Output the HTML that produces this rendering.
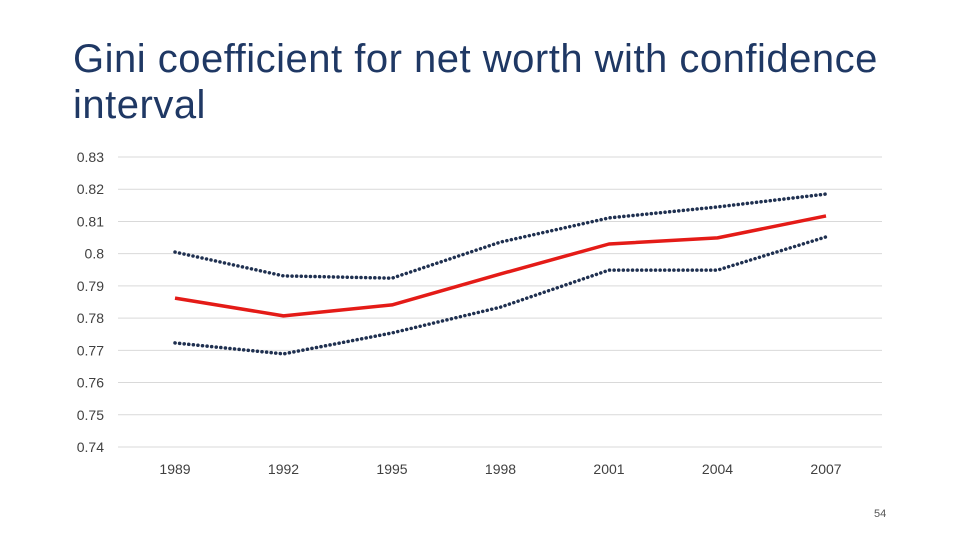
<!DOCTYPE html>
<html><head><meta charset="utf-8"><style>
body{margin:0;background:#fff;}
#wrap{position:relative;width:960px;height:540px;overflow:hidden;font-family:"Liberation Sans",sans-serif;}
#title{position:absolute;left:73px;top:36px;font-family:"Liberation Sans Narrow","Liberation Sans",sans-serif;font-size:40px;line-height:46px;color:#1f3864;letter-spacing:0.5px;}
#pg{position:absolute;left:874px;top:508px;font-size:11px;color:#555;}
</style></head><body>
<div id="wrap">
<div id="title">Gini coefficient for net worth with confidence<br>interval</div>
<svg id="chart" width="960" height="540" style="position:absolute;left:0;top:0"></svg>
<div id="pg">54</div>
</div>
<script>
const years=["1989","1992","1995","1998","2001","2004","2007"];
const gini=[0.7862,0.7807,0.7841,0.7937,0.8030,0.8049,0.8117];
const upper=[0.8005,0.7931,0.7924,0.8036,0.8111,0.8145,0.8185];
const lower=[0.7723,0.7689,0.7754,0.7834,0.7949,0.7949,0.8052];
const yTicks=["0.83","0.82","0.81","0.8","0.79","0.78","0.77","0.76","0.75","0.74"];
{
const NS="http://www.w3.org/2000/svg";
const svg=document.getElementById('chart');
const yMin=0.74,yMax=0.83,yTop=157,yBot=447;
const y=v=>yBot-(v-yMin)/(yMax-yMin)*(yBot-yTop);
const x=i=>175+i*(826-175)/(years.length-1);
function mk(t,a){const e=document.createElementNS(NS,t);for(const k in a)e.setAttribute(k,a[k]);svg.appendChild(e);return e;}
yTicks.forEach(t=>{
  const v=parseFloat(t);
  const g=mk('line',{x1:118,x2:882,y1:y(v),y2:y(v),stroke:'#d9d9d9','stroke-width':1});
  
  
  const l=mk('text',{x:104,y:y(v)+5,'text-anchor':'end','font-size':14,fill:'#404040'});
  l.textContent=t;
  
  
});
years.forEach((t,i)=>{
  const l=mk('text',{x:x(i),y:474,'text-anchor':'middle','font-size':14,fill:'#404040'});
  l.textContent=t;
  
  
});
function line(arr,attrs,name){
  const p=mk('polyline',Object.assign({points:arr.map((v,i)=>x(i)+','+y(v)).join(' '),fill:'none'},attrs));
  
  
}
line(upper,{stroke:'#1f3050','stroke-width':3.5,'stroke-dasharray':'0.1 4.5','stroke-linecap':'round'},'upper-bound-line');
line(lower,{stroke:'#1f3050','stroke-width':3.5,'stroke-dasharray':'0.1 4.5','stroke-linecap':'round'},'lower-bound-line');
line(gini,{stroke:'#e41b17','stroke-width':3.5,'stroke-linejoin':'round'},'gini-line');
}
</script>
</body></html>
